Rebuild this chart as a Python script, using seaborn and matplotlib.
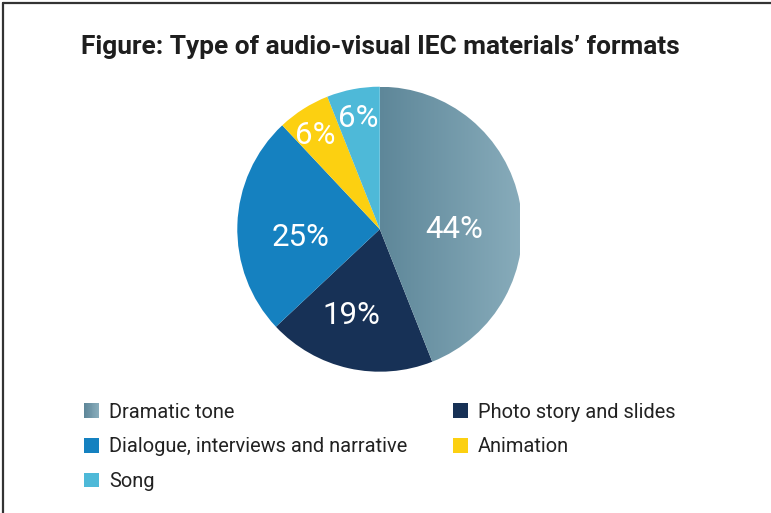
import numpy as np
import matplotlib
matplotlib.use("Agg")
import matplotlib.pyplot as plt
import seaborn as sns
from matplotlib.colors import LinearSegmentedColormap
from matplotlib.patches import Rectangle
from matplotlib.legend_handler import HandlerBase
from matplotlib.lines import Line2D

# ---- data ----
categories = ["Dramatic tone", "Photo story and slides",
              "Dialogue, interviews and narrative", "Animation", "Song"]
shares = [44, 19, 25, 6, 6]
title = "Figure: Type of audio-visual IEC materials\u2019 formats"

# ---- style ----
grad_start, grad_end = "#5e8799", "#88acbb"
colors = [grad_start, "#173156", "#1581c0", "#fcd011", "#4eb9d8"]
label_r = [0.52, 0.62, 0.56, 0.815, 0.815]
label_shift = [-8.8, -5.9, 5.3, 1.1, 0.0]

sns.set_theme(style="white")
plt.rcParams["font.family"] = ["Roboto", "DejaVu Sans"]

W, H, DPI = 771, 513, 100
fig = plt.figure(figsize=(W / DPI, H / DPI), dpi=DPI)
fig.patch.set_facecolor("white")

# pie axes in pixel geometry: centre (379.8, 229.2), radius 142.5, right side trimmed
cx, cy, R = 379.8, 229.2, 142.5
x_right = 519.5
ax = fig.add_axes([(cx - R) / W, (H - (cy + R)) / H, (x_right - (cx - R)) / W, 2 * R / H])

wedges, _ = ax.pie(shares, colors=colors, startangle=90, counterclock=False,
                   radius=1, wedgeprops=dict(linewidth=0))
ax.set_aspect("auto")
ax.axis("off")

# horizontal gradient fill for the first wedge (the wedge itself only clips)
cmap = LinearSegmentedColormap.from_list("tone", [grad_start, grad_end])
grad = np.linspace(0, 1, 256).reshape(1, -1)
img = ax.imshow(grad, cmap=cmap, extent=(0, 1, -1, 1), aspect="auto",
                zorder=wedges[0].get_zorder() + 0.1)
img.set_clip_path(wedges[0])
wedges[0].set_facecolor("none")
ax.set_xlim(-1, (x_right - cx) / R)
ax.set_ylim(-1, 1)

# percentage labels
start = 90.0
for v, r, sh in zip(shares, label_r, label_shift):
    span = v / sum(shares) * 360
    mid = np.deg2rad(start - span / 2 + sh)
    ax.text(r * np.cos(mid), r * np.sin(mid), f"{v}%", color="white",
            fontsize=22.5, ha="center", va="center_baseline", zorder=5)
    start -= span

# title
fig.text(81 / W, (H - 54.3) / H, title, fontsize=18.9, fontweight="bold",
         color="#1e1e1e", ha="left", va="baseline")


class GradientHandler(HandlerBase):
    def create_artists(self, legend, orig_handle, xdescent, ydescent,
                       width, height, fontsize, trans):
        n = 16
        arts = []
        for i in range(n):
            c = cmap(i / (n - 1))
            arts.append(Rectangle((-xdescent + width * i / n, -ydescent),
                                  width / n + 0.3, height, facecolor=c,
                                  edgecolor="none", transform=trans))
        return arts


handles = [Rectangle((0, 0), 1, 1, facecolor=c, edgecolor="none") for c in colors]
hmap = {handles[0]: GradientHandler()}
fs = 14.4
fs_px = fs * DPI / 72
leg_kw = dict(frameon=False, fontsize=fs, handlelength=15 / fs_px, handleheight=15 / fs_px,
              handletextpad=10 / fs_px, labelspacing=0.79, borderpad=0, borderaxespad=0,
              loc="upper left", labelcolor="#222222")

col1 = [0, 2, 4]
col2 = [1, 3]
fig.legend([handles[i] for i in col1], [categories[i] for i in col1],
           handler_map=hmap, bbox_to_anchor=(84 / W, (H - 402.5) / H), **leg_kw)
fig.legend([handles[i] for i in col2], [categories[i] for i in col2],
           handler_map=hmap, bbox_to_anchor=(453 / W, (H - 402.5) / H), **leg_kw)

# frame lines along the top and left edges
fig.add_artist(Line2D([3 / W, 3 / W], [0, (H - 3) / H], color="#333333", lw=1.6,
                      transform=fig.transFigure))
fig.add_artist(Line2D([3 / W, 1], [(H - 3) / H, (H - 3) / H], color="#333333", lw=1.6,
                      transform=fig.transFigure))

fig.savefig("out.png", dpi=DPI)
